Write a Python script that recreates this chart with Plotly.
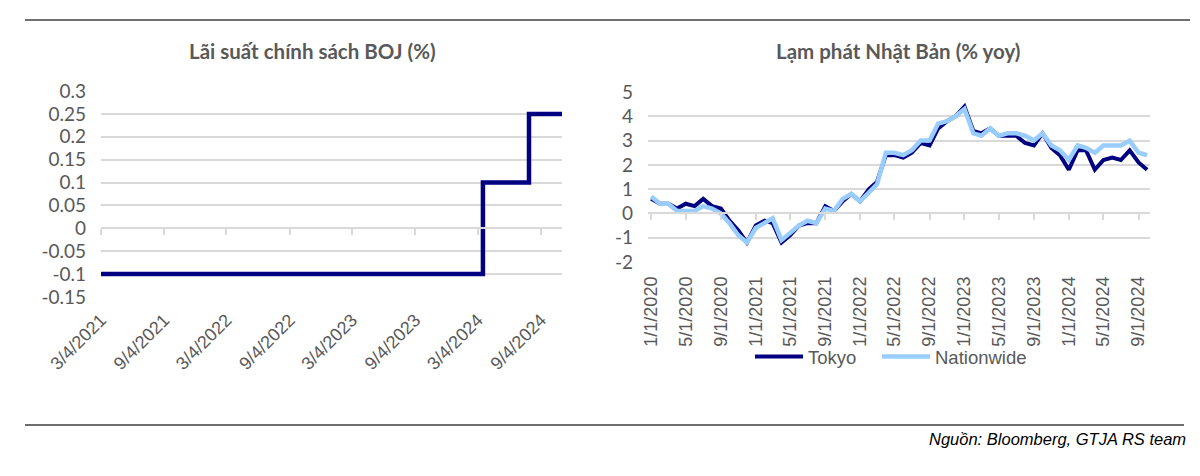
import plotly.graph_objects as go

# ---------------- data ----------------
boj_dates = ["2021-03-04", "2024-03-19", "2024-07-31", "2024-11-04"]
boj_rate = [-0.1, 0.1, 0.25, 0.25]
boj_tick_dates = ["2021-03-04", "2021-09-04", "2022-03-04", "2022-09-04",
                  "2023-03-04", "2023-09-04", "2024-03-04", "2024-09-04"]
boj_tick_labels = ["3/4/2021", "9/4/2021", "3/4/2022", "9/4/2022",
                   "3/4/2023", "9/4/2023", "3/4/2024", "9/4/2024"]
boj_y_vals = [-0.15, -0.1, -0.05, 0, 0.05, 0.1, 0.15, 0.2, 0.25, 0.3]
boj_y_labels = ["-0.15", "-0.1", "-0.05", "0", "0.05", "0.1", "0.15", "0.2", "0.25", "0.3"]

months = [f"{y}-{m:02d}-01" for y in range(2020, 2025) for m in range(1, 13)][:58]
tokyo = [0.6, 0.4, 0.4, 0.2, 0.4, 0.3, 0.6, 0.3, 0.2, -0.3, -0.7, -1.2,
         -0.5, -0.3, -0.4, -1.2, -0.9, -0.5, -0.4, -0.4, 0.3, 0.1, 0.5, 0.8,
         0.5, 1.0, 1.3, 2.4, 2.4, 2.3, 2.5, 2.9, 2.8, 3.5, 3.8, 4.0,
         4.4, 3.4, 3.3, 3.5, 3.2, 3.2, 3.2, 2.9, 2.8, 3.3, 2.7, 2.4,
         1.8, 2.6, 2.6, 1.8, 2.2, 2.3, 2.2, 2.6, 2.1, 1.8]
nationwide = [0.7, 0.4, 0.4, 0.1, 0.1, 0.1, 0.3, 0.2, 0.0, -0.4, -0.9, -1.2,
              -0.6, -0.4, -0.2, -1.1, -0.8, -0.5, -0.3, -0.4, 0.2, 0.1, 0.6, 0.8,
              0.5, 0.9, 1.2, 2.5, 2.5, 2.4, 2.6, 3.0, 3.0, 3.7, 3.8, 4.0,
              4.3, 3.3, 3.2, 3.5, 3.2, 3.3, 3.3, 3.2, 3.0, 3.3, 2.8, 2.6,
              2.2, 2.8, 2.7, 2.5, 2.8, 2.8, 2.8, 3.0, 2.5, 2.4]
cpi_tick_dates = ["2020-01-01", "2020-05-01", "2020-09-01", "2021-01-01", "2021-05-01",
                  "2021-09-01", "2022-01-01", "2022-05-01", "2022-09-01", "2023-01-01",
                  "2023-05-01", "2023-09-01", "2024-01-01", "2024-05-01", "2024-09-01"]
cpi_tick_labels = ["1/1/2020", "5/1/2020", "9/1/2020", "1/1/2021", "5/1/2021",
                   "9/1/2021", "1/1/2022", "5/1/2022", "9/1/2022", "1/1/2023",
                   "5/1/2023", "9/1/2023", "1/1/2024", "5/1/2024", "9/1/2024"]
cpi_y_vals = [-2, -1, 0, 1, 2, 3, 4, 5]
cpi_y_labels = ["-2", "-1", "0", "1", "2", "3", "4", "5"]

# ---------------- styles ----------------
W, H = 1200, 476
GRID = "#D9D9D9"
TXT = "#595959"
NAVY = "#000080"
LIGHT = "#99CCFF"
AX_FONT = dict(family="Liberation Sans, Arial", size=18, color=TXT)
Y_FONT = dict(family="Lato, Liberation Sans", size=19, color=TXT)
LEG_FONT = dict(family="Liberation Sans, Arial", size=18.5, color=TXT)

L_DOM_X = [101 / W, 562 / W]
L_DOM_Y = [1 - 297 / H, 1 - 91 / H]
L_RANGE_Y = [-0.15, 0.3]
R_DOM_X = [648 / W, 1150 / W]
R_DOM_Y = [1 - 262 / H, 1 - 92 / H]
R_RANGE_Y = [-2, 5]


def zero_pos(dom, rng):
    f = (0 - rng[0]) / (rng[1] - rng[0])
    return dom[0] + f * (dom[1] - dom[0])


fig = go.Figure()

# Left: BOJ policy rate
fig.add_trace(go.Scatter(x=boj_dates, y=boj_rate, mode="lines", line_shape="hv",
                         line=dict(color=NAVY, width=4.5), showlegend=False,
                         xaxis="x", yaxis="y"))
fig.add_trace(go.Scatter(x=boj_dates, y=boj_rate, mode="lines", opacity=0,
                         line=dict(width=0), showlegend=False, hoverinfo="skip",
                         xaxis="x3", yaxis="y"))

# Right: inflation
fig.add_trace(go.Scatter(x=months, y=tokyo, mode="lines", name="Tokyo",
                         line=dict(color=NAVY, width=4), xaxis="x2", yaxis="y2",
                         legend="legend"))
fig.add_trace(go.Scatter(x=months, y=nationwide, mode="lines", name="Nationwide",
                         line=dict(color=LIGHT, width=4.5), xaxis="x2", yaxis="y2",
                         legend="legend2"))
fig.add_trace(go.Scatter(x=months, y=tokyo, mode="lines", opacity=0,
                         line=dict(width=0), showlegend=False, hoverinfo="skip",
                         xaxis="x4", yaxis="y2"))

fig.update_layout(
    template="none",
    width=W, height=H,
    margin=dict(l=0, r=0, t=0, b=0, pad=0, autoexpand=False),
    paper_bgcolor="white", plot_bgcolor="white",
    hovermode=False,
    xaxis=dict(domain=L_DOM_X, anchor="y", type="date", automargin=False,
               range=[boj_dates[0], boj_dates[-1]],
               tickmode="array", tickvals=boj_tick_dates, ticktext=boj_tick_labels,
               tickangle=-45, tickfont=AX_FONT, showgrid=False, ticks="",
               showline=False, zeroline=False, ticklabelstandoff=8),
    xaxis3=dict(overlaying="x", matches="x", anchor="free", automargin=False,
                position=zero_pos(L_DOM_Y, L_RANGE_Y), type="date",
                tickmode="array", tickvals=boj_tick_dates, showticklabels=False,
                showgrid=False, showline=True, linecolor=GRID, linewidth=1.5,
                ticks="outside", ticklen=6, tickcolor=GRID, tickwidth=1.5),
    yaxis=dict(domain=L_DOM_Y, anchor="x", range=L_RANGE_Y, automargin=False,
               tickmode="array", tickvals=boj_y_vals, ticktext=boj_y_labels,
               tickfont=Y_FONT, showgrid=True, gridcolor=GRID, gridwidth=1.5,
               zeroline=False, showline=False, ticks="", ticklabelstandoff=14),
    xaxis2=dict(domain=R_DOM_X, anchor="y2", type="date", automargin=False,
                range=["2019-12-21", "2024-10-11"],
                tickmode="array", tickvals=cpi_tick_dates, ticktext=cpi_tick_labels,
                tickangle=-90, tickfont=AX_FONT, showgrid=False, ticks="",
                showline=False, zeroline=False, ticklabelstandoff=10),
    xaxis4=dict(overlaying="x2", matches="x2", anchor="free", automargin=False,
                position=zero_pos(R_DOM_Y, R_RANGE_Y), type="date",
                tickmode="array", tickvals=cpi_tick_dates, showticklabels=False,
                showgrid=False, showline=True, linecolor=GRID, linewidth=1.5,
                ticks="outside", ticklen=6, tickcolor=GRID, tickwidth=1.5),
    yaxis2=dict(domain=R_DOM_Y, anchor="x2", range=R_RANGE_Y, automargin=False,
                tickmode="array", tickvals=cpi_y_vals, ticktext=cpi_y_labels,
                tickfont=Y_FONT, showgrid=True, gridcolor=GRID, gridwidth=1.5,
                zeroline=False, showline=False, ticks="", ticklabelstandoff=14),
    legend=dict(orientation="h", x=750 / W, xanchor="left", y=1 - 357 / H,
                yanchor="middle", font=LEG_FONT,
                bgcolor="rgba(0,0,0,0)", itemwidth=48),
    legend2=dict(orientation="h", x=877 / W, xanchor="left", y=1 - 357 / H,
                 yanchor="middle", font=LEG_FONT,
                 bgcolor="rgba(0,0,0,0)", itemwidth=48),
    showlegend=True,
)

fig.add_annotation(text="<b>Lãi suất chính sách BOJ (%)</b>", xref="paper", yref="paper",
                   x=312 / W, y=1 - 51 / H, showarrow=False, xanchor="center", yanchor="middle",
                   font=dict(family="Lato, Liberation Sans", size=20.5, color=TXT))
fig.add_annotation(text="<b>Lạm phát Nhật Bản (% yoy)</b>", xref="paper", yref="paper",
                   x=898 / W, y=1 - 51 / H, showarrow=False, xanchor="center", yanchor="middle",
                   font=dict(family="Lato, Liberation Sans", size=20.5, color=TXT))
fig.add_annotation(text="<i>Nguồn: Bloomberg, GTJA RS team</i>", xref="paper", yref="paper",
                   x=1188 / W, y=1 - 439 / H, showarrow=False, xanchor="right", yanchor="middle",
                   font=dict(family="Liberation Sans, Arial", size=16.5, color="#000000"))

fig.add_shape(type="line", xref="paper", yref="paper", x0=25 / W, x1=1190 / W,
              y0=1 - 20 / H, y1=1 - 20 / H, line=dict(color="#404040", width=1.5))
fig.add_shape(type="line", xref="paper", yref="paper", x0=25 / W, x1=1184 / W,
              y0=1 - 425 / H, y1=1 - 425 / H, line=dict(color="#6E6E6E", width=2))

fig.write_html("out.html")
